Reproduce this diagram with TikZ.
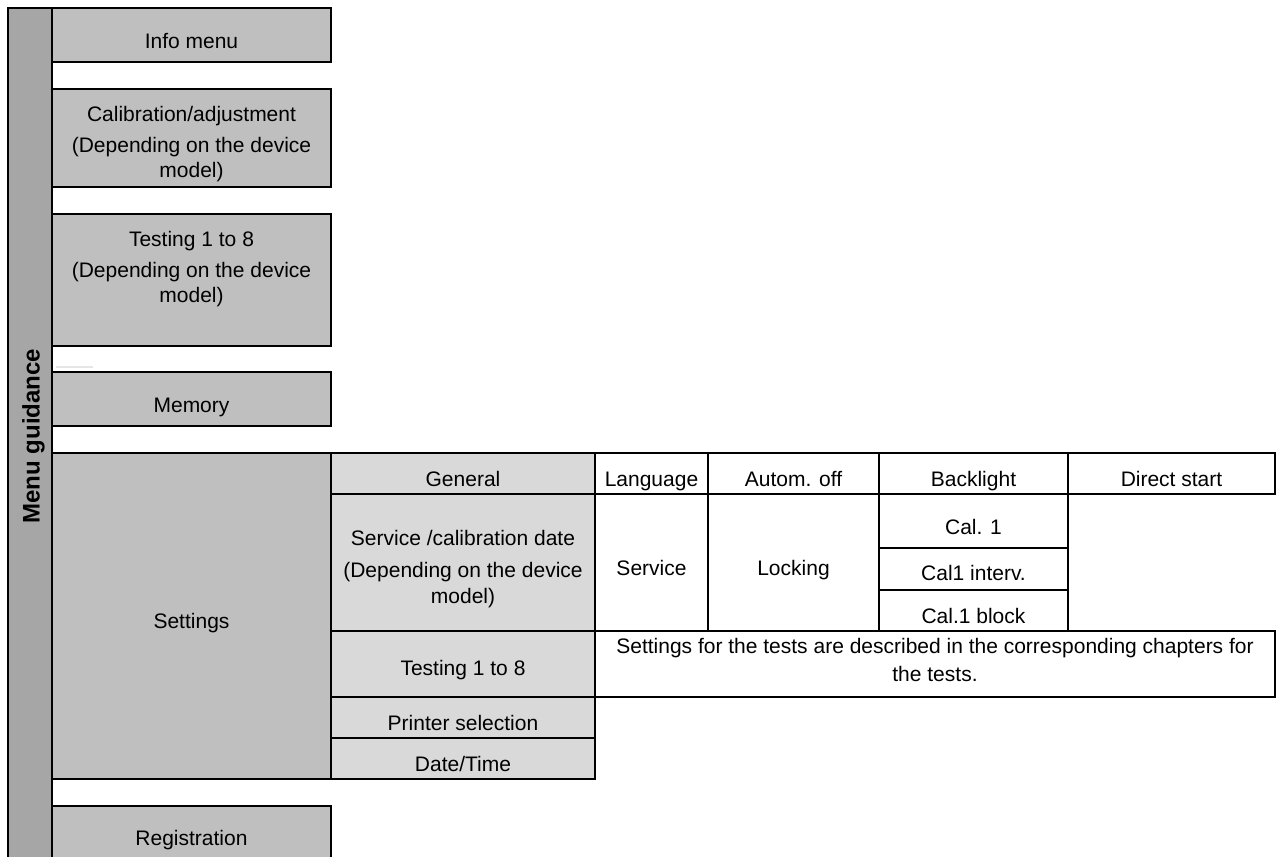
\documentclass[tikz,border=0pt]{standalone}
\usepackage{fontspec}
\setmainfont{Liberation Sans}
\definecolor{barc}{HTML}{A6A6A6}
\definecolor{mainc}{HTML}{BFBFBF}
\definecolor{subc}{HTML}{D9D9D9}
\definecolor{faintc}{HTML}{E6E6E6}
\tikzset{
  cell/.style={draw=black, line width=2.2pt, inner sep=0pt, outer sep=0pt},
  barcell/.style={cell, fill=barc},
  maincell/.style={cell, fill=mainc},
  subcell/.style={cell, fill=subc},
  plaincell/.style={cell, fill=white},
  lab/.style={anchor=base, inner sep=0pt, outer sep=0pt, font=\fontsize{21}{25}\selectfont},
  titlelab/.style={anchor=base, inner sep=0pt, outer sep=0pt, font=\bfseries\fontsize{24}{28}\selectfont, rotate=90},
}
% name, style, x1, y1, x2, y2
\newcommand\boxcell[6]{\node[#2, minimum width={(#5)-(#3)}, minimum height={(#6)-(#4)}] (#1) at ({((#3)+(#5))/2},{((#4)+(#6))/2}) {};}
\begin{document}
\begin{tikzpicture}[x=1pt, y=-1pt]
\useasboundingbox (0,0) rectangle (1278,857);
% left bar
\boxcell{bar}{barcell}{8}{8}{52}{900}
% main column
\boxcell{info}{maincell}{52}{8}{331}{62}
\boxcell{calib}{maincell}{52}{89}{331}{187}
\boxcell{testing}{maincell}{52}{214}{331}{346}
\boxcell{memory}{maincell}{52}{372}{331}{426}
\boxcell{settings}{maincell}{52}{453}{331}{779}
\boxcell{registration}{maincell}{52}{806}{331}{900}
% settings sub column
\boxcell{general}{subcell}{331}{453}{595}{494}
\boxcell{servcal}{subcell}{331}{494}{595}{631}
\boxcell{testsub}{subcell}{331}{631}{595}{697}
\boxcell{printer}{subcell}{331}{697}{595}{738}
\boxcell{datetime}{subcell}{331}{738}{595}{779}
% right table
\boxcell{language}{plaincell}{595}{453}{708}{494}
\boxcell{autom}{plaincell}{708}{453}{879}{494}
\boxcell{backlight}{plaincell}{879}{453}{1068}{494}
\boxcell{direct}{plaincell}{1068}{453}{1275}{494}
\boxcell{service}{plaincell}{595}{494}{708}{631}
\boxcell{locking}{plaincell}{708}{494}{879}{631}
\boxcell{calone}{plaincell}{879}{494}{1068}{548}
\boxcell{calint}{plaincell}{879}{548}{1068}{590}
\boxcell{calblock}{plaincell}{879}{590}{1068}{631}
\boxcell{testsinfo}{plaincell}{595}{631}{1275}{697}
% faint mark
\draw[faintc, line width=2pt] (56,367) -- (93,367);
% title
\node[titlelab] (title) at (39.5,436) {Menu guidance};
% main column texts
\node[lab] (tinfo) at (191.5,48) {Info menu};
\node[lab] (tcal1) at (191.5,121.5) {Calibration/adjustment};
\node[lab] (tcal2) at (191.5,152) {(Depending on the device};
\node[lab] (tcal3) at (191.5,177) {model)};
\node[lab] (ttest1) at (191.5,246) {Testing 1 to 8};
\node[lab] (ttest2) at (191.5,277.5) {(Depending on the device};
\node[lab] (ttest3) at (191.5,302) {model)};
\node[lab] (tmem) at (191.5,412) {Memory};
\node[lab] (tsettings) at (191.5,628) {Settings};
\node[lab] (treg) at (191.5,845) {Registration};
% sub column texts
\node[lab] (tgeneral) at (463,486) {General};
\node[lab] (tserv1) at (463,545) {Service /calibration date};
\node[lab] (tserv2) at (463,577) {(Depending on the device};
\node[lab] (tserv3) at (463,603) {model)};
\node[lab] (ttestsub) at (463,675) {Testing 1 to 8};
\node[lab] (tprinter) at (463,730) {Printer selection};
\node[lab] (tdate) at (463,771) {Date/Time};
% right table texts
\node[lab] (tlang) at (651.5,486) {Language};
\node[lab] (tautom) at (793.5,486) {Autom. off};
\node[lab] (tback) at (973.5,486) {Backlight};
\node[lab] (tdirect) at (1171.5,486) {Direct start};
\node[lab] (tservice) at (651.5,575) {Service};
\node[lab] (tlocking) at (793.5,575) {Locking};
\node[lab] (tcalone) at (973.5,534) {Cal. 1};
\node[lab] (tcalint) at (973.5,580) {Cal1 interv.};
\node[lab] (tcalblock) at (973.5,623) {Cal.1 block};
\node[lab] (tinfo1) at (935,653) {Settings for the tests are described in the corresponding chapters for};
\node[lab] (tinfo2) at (935,681) {the tests.};
\end{tikzpicture}
\end{document}
